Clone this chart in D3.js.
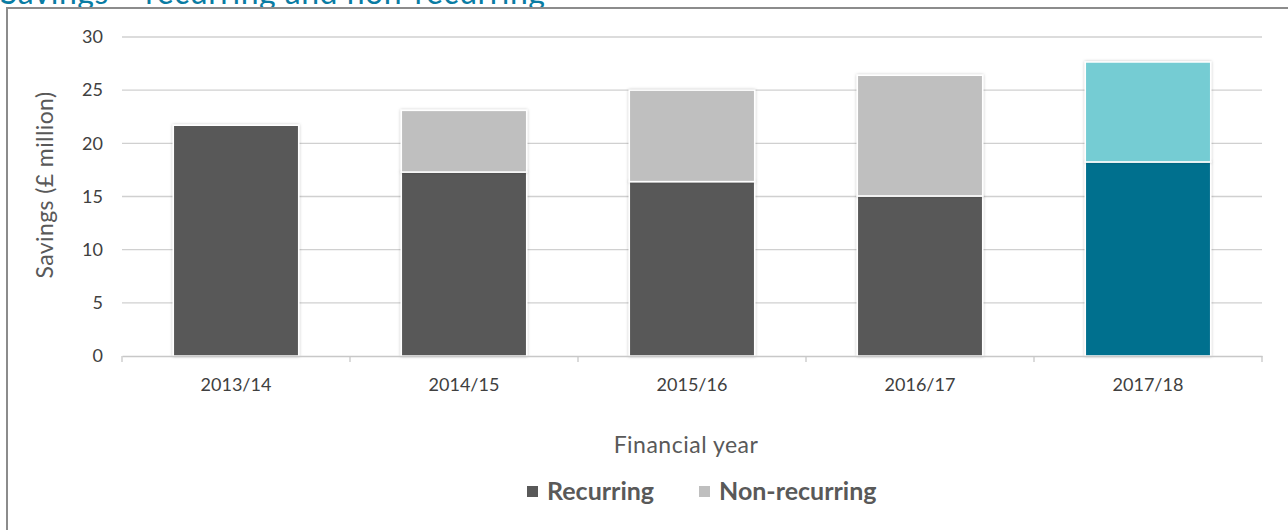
<!DOCTYPE html>
<html>
<head>
<meta charset="utf-8">
<script src="https://cdn.jsdelivr.net/npm/d3@7"></script>
<style>
  body { margin: 0; background: #fff; }
  text { font-family: Lato, "Open Sans", sans-serif; }
</style>
</head>
<body>
<div id="my_dataviz"></div>
<script>
// Data
const years = ["2013/14", "2014/15", "2015/16", "2016/17", "2017/18"];
const recurring = [21.7, 17.3, 16.4, 15.05, 18.25];
const nonRecurring = [0, 5.8, 8.6, 11.35, 9.4];
const yTicks = [0, 5, 10, 15, 20, 25, 30];
const seriesNames = ["Recurring", "Non-recurring"];

const width = 1288, height = 530;
const margin = { top: 37, right: 26, bottom: 174, left: 122 };

const svg = d3.select("#my_dataviz").append("svg")
    .attr("width", width)
    .attr("height", height);

// Title (cut off at the top, as in the source)
svg.append("text")
    .attr("x", 0)
    .attr("y", 4)
    .attr("fill", "#0a7ca3")
    .style("font-size", "32px")
    .style("letter-spacing", "0.5px")
    .text("Savings – recurring and non-recurring");

// Frame
svg.append("rect").attr("x", 8).attr("y", 9).attr("width", width).attr("height", height).attr("fill", "#fff");
svg.append("path")
    .attr("d", `M7,${height} V8 H${width}`)
    .attr("fill", "none")
    .attr("stroke", "#8c8c8c")
    .attr("stroke-width", 2);

const g = svg.append("g")
    .attr("transform", `translate(${margin.left}, ${margin.top})`);

const innerW = width - margin.left - margin.right;
const innerH = height - margin.top - margin.bottom;

const xScale = d3.scaleBand().domain(years).range([0, innerW]).paddingInner(0.45).paddingOuter(0.225);
const yScale = d3.scaleLinear().domain([0, 30]).range([innerH, 0]);

// Grid lines
g.append("g")
    .selectAll("line")
    .data(yTicks.slice(1))
    .join("line")
    .attr("x1", 0).attr("x2", innerW)
    .attr("y1", d => yScale(d)).attr("y2", d => yScale(d))
    .attr("stroke", "#d0d0d0")
    .attr("stroke-width", 1.3);

// Y axis labels
g.append("g")
    .call(d3.axisLeft(yScale).tickValues(yTicks).tickSize(0).tickPadding(19))
    .call(a => a.select(".domain").remove())
    .selectAll("text")
    .style("font-family", "Lato, sans-serif")
    .style("font-size", "18px")
    .attr("fill", "#404040");

// Stacked bars
const colors = {
    Recurring: "#595959",
    "Non-recurring": "#bfbfbf"
};
const highlight = {
    Recurring: "#006f8e",
    "Non-recurring": "#74ccd3"
};
const table = years.map((y, i) => ({ year: y, Recurring: recurring[i], "Non-recurring": nonRecurring[i] }));
const stacked = d3.stack().keys(seriesNames)(table);

const defs = svg.append("defs");
const f = defs.append("filter").attr("id", "shadow").attr("x", "-10%").attr("y", "-10%").attr("width", "120%").attr("height", "120%");
f.append("feDropShadow").attr("dx", 0).attr("dy", 0).attr("stdDeviation", 1.5).attr("flood-color", "#000").attr("flood-opacity", 0.25);

stacked.forEach(s => {
    g.append("g")
        .selectAll("rect")
        .data(s.filter(d => d[1] - d[0] > 0))
        .join("rect")
        .attr("x", d => xScale(d.data.year))
        .attr("y", d => yScale(d[1]))
        .attr("width", xScale.bandwidth())
        .attr("height", d => yScale(d[0]) - yScale(d[1]))
        .attr("fill", d => d.data.year === "2017/18" ? highlight[s.key] : colors[s.key])
        .attr("stroke", "#fff")
        .attr("stroke-width", 1.5)
        .attr("filter", "url(#shadow)");
});

// X axis
const xAxis = g.append("g")
    .attr("transform", `translate(0, ${innerH})`)
    .call(d3.axisBottom(xScale).tickSize(0).tickPadding(22));
xAxis.select(".domain").attr("stroke", "#c8c8c8").attr("stroke-width", 1.3);
xAxis.selectAll("text")
    .style("font-family", "Lato, sans-serif")
    .style("font-size", "18px")
    .attr("fill", "#404040");

// boundary tick marks
const step = xScale.step();
g.append("g")
    .selectAll("line")
    .data(d3.range(years.length + 1))
    .join("line")
    .attr("x1", i => i * step).attr("x2", i => i * step)
    .attr("y1", innerH).attr("y2", innerH + 6)
    .attr("stroke", "#c8c8c8")
    .attr("stroke-width", 1.3);

// Axis titles
svg.append("text")
    .attr("transform", `translate(53, 185) rotate(-90)`)
    .attr("text-anchor", "middle")
    .attr("fill", "#595959")
    .style("font-size", "23px")
    .style("letter-spacing", "0.4px")
    .text("Savings (£ million)");

svg.append("text")
    .attr("x", margin.left + innerW / 2 - 6)
    .attr("y", 453)
    .attr("text-anchor", "middle")
    .attr("fill", "#595959")
    .style("font-size", "23px")
    .style("letter-spacing", "0.5px")
    .text("Financial year");

// Legend
const legendX = [527, 699];
const legend = svg.selectAll(".legend")
    .data(seriesNames)
    .join("g")
    .attr("transform", (d, i) => `translate(${legendX[i]}, 486)`);

legend.append("rect")
    .attr("width", 11)
    .attr("height", 11)
    .attr("fill", d => colors[d]);

legend.append("text")
    .attr("x", 20)
    .attr("y", 14)
    .attr("fill", "#595959")
    .style("font-size", "25px")
    .style("font-weight", "bold")
    .text(d => d);
</script>
</body>
</html>
